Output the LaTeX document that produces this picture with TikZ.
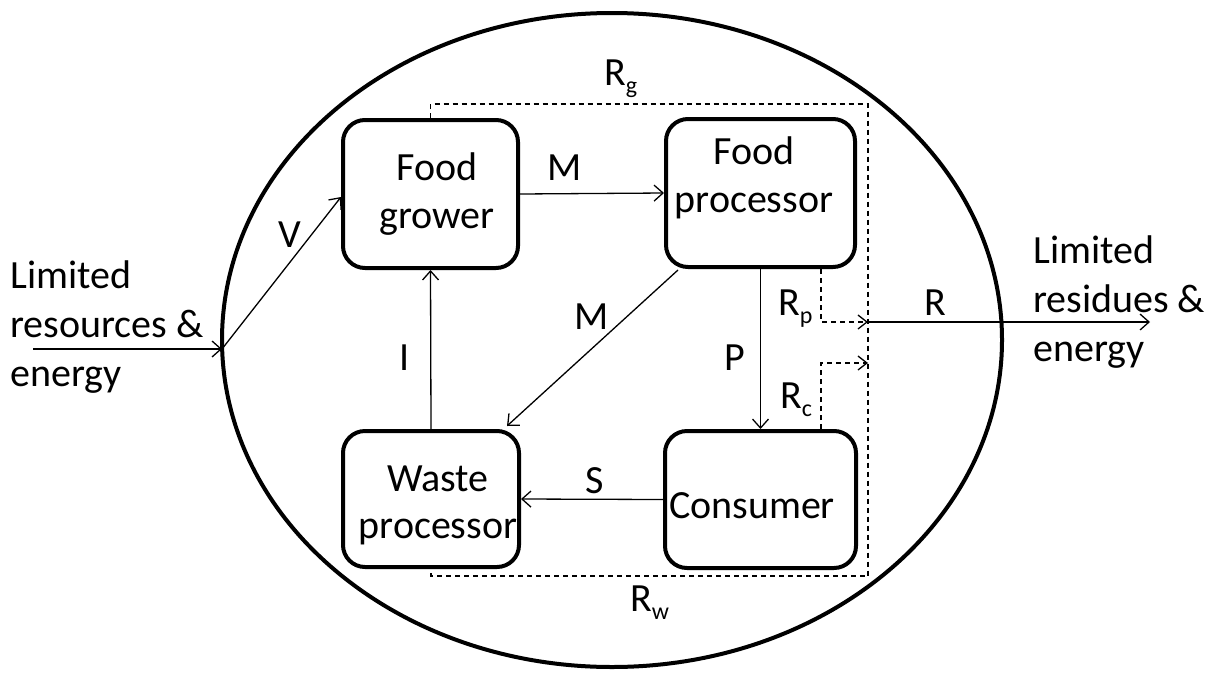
\documentclass[tikz,border=0pt]{standalone}
\usepackage{fontspec}
\setmainfont{Carlito}
\usetikzlibrary{arrows.meta,shapes.geometric,calc}
\newcommand{\lsub}[1]{\raisebox{-8pt}{\fontsize{24}{24}\selectfont #1}}
\begin{document}
\begin{tikzpicture}[x=1pt,y=-1pt,
  every node/.style={font=\fontsize{40}{49}\selectfont, inner sep=0pt},
  boxsh/.style={draw, line width=4pt, rounded corners=22pt},
  arr/.style={-{Straight Barb[length=9pt,width=16pt]}, line width=1.3pt},
  dsh/.style={line width=1.3pt, dash pattern=on 5pt off 4pt},
  lbl/.style={anchor=base}]
\useasboundingbox (0,0) rectangle (1209,675);
% system boundary
\node[ellipse, draw, line width=4pt, minimum width=780pt, minimum height=654pt] (sys) at (612,340) {};
% boxes
\node[boxsh, minimum width=175pt, minimum height=148pt] (fg) at (430.5,194) {};
\node[boxsh, minimum width=189pt, minimum height=148pt] (fp) at (760.5,193) {};
\node[boxsh, minimum width=176pt, minimum height=136pt] (wp) at (431,499) {};
\node[boxsh, minimum width=191pt, minimum height=137pt] (co) at (760.5,499.5) {};
% box texts (base = baseline of last line)
\node[align=center, anchor=base, font=\fontsize{40}{48}\selectfont] (fgt) at (437,228) {Food\\grower};
\node[align=center, anchor=base, font=\fontsize{40}{48}\selectfont] (fpt) at (754,212) {Food\\processor};
\node[align=center, anchor=base, font=\fontsize{40}{47}\selectfont] (wpt) at (438,538) {Waste\\processor};
\node[anchor=base] (cot) at (752,518) {Consumer};
% outer texts
\node[align=left, anchor=base west] (intx) at (10,386) {Limited\\resources \&\\energy};
\node[align=left, anchor=base west] (outx) at (1033,361) {Limited\\residues \&\\energy};
% coordinates
\coordinate (inl) at (33,349);
\coordinate (inp) at (222,349);
\coordinate (dtr) at (868,104);
\coordinate (dbr) at (868,576);
\coordinate (rj) at (868,322);
\coordinate (rcj) at (868,363);
\coordinate (rpx) at (821,0);
\coordinate (rout) at (1150,322);
% connectors
\draw[arr] (inl) -- (inp);
\draw[arr] (inp) -- ($(fg.west)+(0,3)$);
\draw[arr] (fg.east) -- (fp.west);
\draw[arr] ($(fp.south west)+(14,1)$) -- ($(wp.north east)+(-14,-3)$);
\draw[arr] (fp.south) -- (co.north);
\draw[arr] (co.west) -- (wp.east);
\draw[arr] (wp.north) -- (fg.south);
\draw[dsh] (fg.north) |- (dtr) -- (dbr) -| (wp.south);
\draw[dsh, -{Straight Barb[length=9pt,width=14pt]}] (fp.south -| rpx) |- (rj);
\draw[dsh, -{Straight Barb[length=9pt,width=14pt]}] (co.north -| rpx) |- (rcj);
\draw[arr] (rj) -- (rout);
% labels
\node[lbl] (lv) at (290,247) {V};
\node[lbl] (lm1) at (565,180) {M};
\node[lbl] (lm2) at (592,329) {M};
\node[lbl] (lp) at (735,370) {P};
\node[lbl] (li) at (405,370) {I};
\node[lbl] (ls) at (595,493) {S};
\node[lbl] (lr) at (935,315) {R};
\node[anchor=base west] (lrp) at (778,315) {R\lsub{p}};
\node[anchor=base west] (lrc) at (780,408) {R\lsub{c}};
\node[anchor=base west] (lrg) at (604,85) {R\lsub{g}};
\node[anchor=base west] (lrw) at (630,611) {R\lsub{w}};
\end{tikzpicture}
\end{document}
